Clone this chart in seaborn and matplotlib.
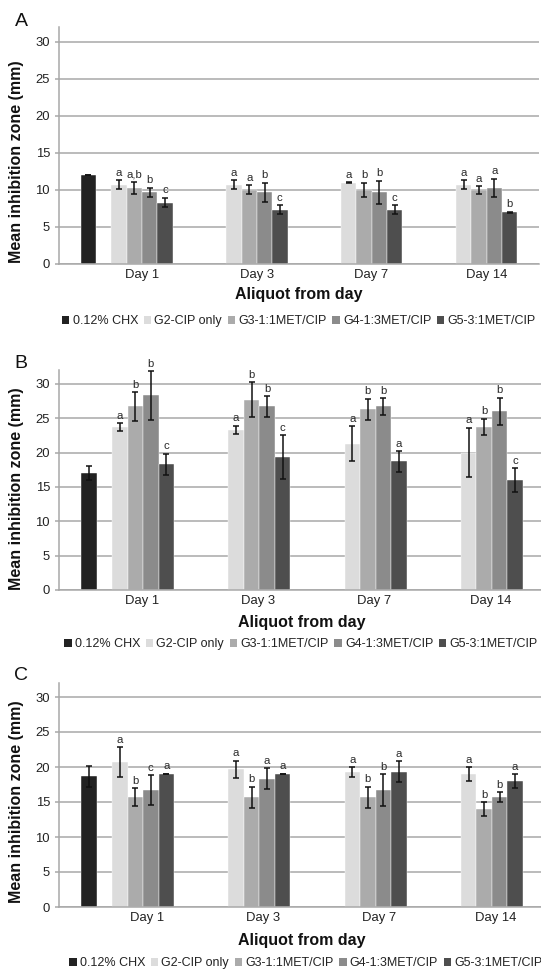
import numpy as np
import pandas as pd
import matplotlib
matplotlib.use("Agg")
import matplotlib.pyplot as plt
import matplotlib.transforms as mtransforms
from matplotlib.patches import Patch
import seaborn as sns

sns.set_theme(style="white")
plt.rcParams['font.family'] = ['Liberation Sans', 'DejaVu Sans']

# ---------------- data ----------------
days = ["Day 1", "Day 3", "Day 7", "Day 14"]
groups = ["0.12% CHX", "G2-CIP only", "G3-1:1MET/CIP", "G4-1:3MET/CIP", "G5-3:1MET/CIP"]
colors = ["#222222", "#dcdcdc", "#ababab", "#8b8b8b", "#4e4e4e"]

# Panel A
A_chx = [12.0]
A_chx_err = [0.05]
A_g2 = [10.7, 10.7, 11.0, 10.7]
A_g3 = [10.3, 10.0, 10.0, 10.0]
A_g4 = [9.7, 9.7, 9.7, 10.3]
A_g5 = [8.3, 7.3, 7.3, 7.0]
A_g2_err = [0.6, 0.6, 0.05, 0.6]
A_g3_err = [0.8, 0.6, 1.0, 0.5]
A_g4_err = [0.6, 1.3, 1.55, 1.2]
A_g5_err = [0.6, 0.6, 0.6, 0.05]
A_g2_let = ["a", "a", "a", "a"]
A_g3_let = ["a,b", "a", "b", "a"]
A_g4_let = ["b", "b", "b", "a"]
A_g5_let = ["c", "c", "c", "b"]

# Panel B
B_chx = [17.0]
B_chx_err = [1.0]
B_g2 = [23.7, 23.3, 21.3, 20.0]
B_g3 = [26.7, 27.7, 26.3, 23.7]
B_g4 = [28.3, 26.7, 26.7, 26.0]
B_g5 = [18.3, 19.3, 18.7, 16.0]
B_g2_err = [0.6, 0.6, 2.5, 3.6]
B_g3_err = [2.1, 2.5, 1.5, 1.2]
B_g4_err = [3.5, 1.5, 1.2, 2.0]
B_g5_err = [1.5, 3.2, 1.5, 1.7]
B_g2_let = ["a", "a", "a", "a"]
B_g3_let = ["b", "b", "b", "b"]
B_g4_let = ["b", "b", "b", "b"]
B_g5_let = ["c", "c", "a", "c"]

# Panel C
C_chx = [18.7]
C_chx_err = [1.5]
C_g2 = [20.7, 19.7, 19.3, 19.0]
C_g3 = [15.7, 15.7, 15.7, 14.0]
C_g4 = [16.7, 18.3, 16.7, 15.7]
C_g5 = [19.0, 19.0, 19.3, 18.0]
C_g2_err = [2.1, 1.2, 0.67, 1.0]
C_g3_err = [1.25, 1.5, 1.5, 1.0]
C_g4_err = [2.1, 1.5, 2.3, 0.67]
C_g5_err = [0.05, 0.05, 1.5, 1.0]
C_g2_let = ["a", "a", "a", "a"]
C_g3_let = ["b", "b", "b", "b"]
C_g4_let = ["c", "a", "b", "b"]
C_g5_let = ["a", "a", "a", "a"]

SPACER = "spacer"
hue_order = [groups[0], SPACER] + groups[1:]
palette = dict(zip(groups, colors))
palette[SPACER] = "#ffffff"


def build(chx, chx_err, series, errs, lets):
    rows = [dict(day=days[0], group=groups[0], value=chx[0], err=chx_err[0], letter="")]
    for g, vals, es, ls in zip(groups[1:], series, errs, lets):
        for d, v, e, l in zip(days, vals, es, ls):
            rows.append(dict(day=d, group=g, value=v, err=e, letter=l))
    return pd.DataFrame(rows)


dfA = build(A_chx, A_chx_err, [A_g2, A_g3, A_g4, A_g5],
            [A_g2_err, A_g3_err, A_g4_err, A_g5_err],
            [A_g2_let, A_g3_let, A_g4_let, A_g5_let])
dfB = build(B_chx, B_chx_err, [B_g2, B_g3, B_g4, B_g5],
            [B_g2_err, B_g3_err, B_g4_err, B_g5_err],
            [B_g2_let, B_g3_let, B_g4_let, B_g5_let])
dfC = build(C_chx, C_chx_err, [C_g2, C_g3, C_g4, C_g5],
            [C_g2_err, C_g3_err, C_g4_err, C_g5_err],
            [C_g2_let, C_g3_let, C_g4_let, C_g5_let])

# ---------------- figure ----------------
W, H = 541, 969
fig = plt.figure(figsize=(W / 100, H / 100), dpi=100)
fig.patch.set_facecolor("white")

GRID = "#a8a8a8"
nslots = len(hue_order)


def px_rect(left, top, right, bottom):
    return [left / W, 1 - bottom / H, (right - left) / W, (bottom - top) / H]


def draw(df, rect, letter, letter_xy, tick_shift, ylab_y, xlab_off, leg_xy):
    ax = fig.add_axes(rect)
    sns.barplot(data=df, x="day", y="value", hue="group", order=days,
                hue_order=hue_order, palette=palette, width=0.8, gap=0,
                errorbar=None, legend=False, saturation=1, ax=ax,
                edgecolor="white", linewidth=0.3)
    lookup = {(r.day, r.group): r for r in df.itertuples()}
    xs, hs, es = [], [], []
    slot_w = 0.8 / nslots
    for cont in ax.containers:
        for p in cont.patches:
            h = p.get_height()
            if not np.isfinite(h) or h <= 0:
                continue
            xc = p.get_x() + p.get_width() / 2
            cat = int(round(xc))
            slot = int(round((xc - cat + 0.4) / slot_w - 0.5))
            g = hue_order[slot]
            key = (days[cat], g)
            if key not in lookup:
                continue
            r = lookup[key]
            xs.append(xc); hs.append(h); es.append(r.err)
            if r.letter:
                ax.text(xc, h + r.err + 0.35, r.letter, ha="center", va="bottom",
                        fontsize=8.2, color="#2a2a2a", clip_on=False)
    ax.errorbar(xs, hs, yerr=es, fmt="none", ecolor="#111111", elinewidth=1.1,
                capsize=2.4, capthick=1.1, zorder=5)

    ax.set_ylim(0, 32)
    ax.set_yticks(range(0, 31, 5))
    ax.yaxis.grid(True, color=GRID, linewidth=1.1)
    ax.xaxis.grid(False)
    ax.set_axisbelow(True)
    for s in ["top", "right"]:
        ax.spines[s].set_visible(False)
    for s in ["left", "bottom"]:
        ax.spines[s].set_color(GRID)
        ax.spines[s].set_linewidth(1.1)
    ax.tick_params(axis="y", length=3, width=1.1, color=GRID, labelsize=9.4,
                   pad=3.5, labelcolor="#222222", left=True)
    ax.tick_params(axis="x", length=0, labelsize=9.4, pad=3.5, labelcolor="#222222")
    shift = mtransforms.ScaledTranslation(tick_shift / 100, 0, fig.dpi_scale_trans)
    for lbl in ax.get_xticklabels():
        lbl.set_transform(lbl.get_transform() + shift)

    ax.set_ylabel("Mean inhibition zone (mm)", fontsize=11.5, fontweight="bold",
                  color="#111111")
    ax.yaxis.set_label_coords(-42 / (rect[2] * W), ylab_y)
    ax.yaxis.label.set_va("center")
    ax.set_xlabel("Aliquot from day", fontsize=11.5, fontweight="bold", color="#111111")
    ax.xaxis.set_label_coords(0.5, -xlab_off / (rect[3] * H))
    ax.xaxis.label.set_va("center")

    fig.text(letter_xy[0] / W, 1 - letter_xy[1] / H, letter, fontsize=14,
             ha="center", va="center", color="#111111")

    handles = [Patch(facecolor=c, edgecolor="none") for c in colors]
    fig.legend(handles, groups, loc="center left",
               bbox_to_anchor=(leg_xy[0] / W, 1 - leg_xy[1] / H), ncol=5,
               frameon=False, handlelength=0.6, handleheight=0.6,
               handletextpad=0.25, columnspacing=0.45, fontsize=9.0,
               borderaxespad=0, borderpad=0, labelcolor="#222222")
    return ax


draw(dfA, px_rect(59, 27, 539, 264), "A", (21, 21), 15, 0.43, 31, (62, 321))
draw(dfB, px_rect(59, 370, 545, 590), "B", (21, 363), 14, 0.46, 32, (64, 644))
draw(dfC, px_rect(59, 683, 545, 907), "C", (21, 675), 19, 0.47, 33, (69, 963))

fig.savefig("out.png", dpi=100, facecolor="white")
